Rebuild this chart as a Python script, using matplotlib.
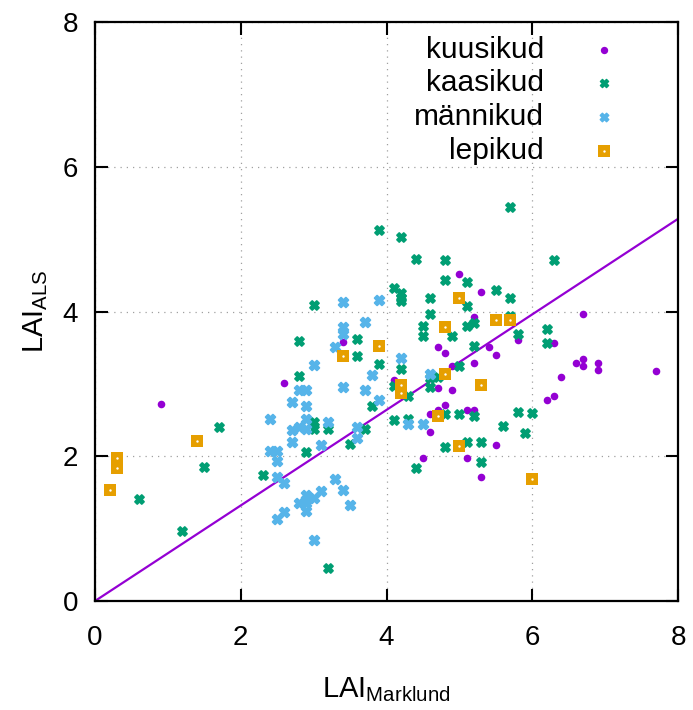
import matplotlib
matplotlib.use("Agg")
import matplotlib.pyplot as plt

plt.rcParams['font.family'] = ['Liberation Sans', 'DejaVu Sans']
plt.rcParams['mathtext.default'] = 'regular'

# LAI by Marklund (x) vs LAI from ALS (y), per stand type
kuusikud_x = [0.9, 2.6, 3.4, 5.0, 5.3, 5.2, 5.8, 4.7, 4.8, 5.4, 5.5, 5.2, 4.9, 4.1, 4.7, 4.9,
              4.8, 4.6, 4.7, 5.1, 5.2, 4.6, 5.5, 4.5, 5.1, 5.3, 6.7, 6.3, 6.6, 6.7, 6.7, 6.9,
              6.9, 7.7, 6.4, 6.3, 6.2]
kuusikud_y = [2.72, 3.01, 3.58, 4.52, 4.27, 3.92, 3.60, 3.51, 3.43, 3.51, 3.40, 3.29, 3.25, 3.06,
              2.94, 2.92, 2.71, 2.59, 2.64, 2.64, 2.64, 2.34, 2.15, 1.97, 1.97, 1.72, 3.96, 3.57,
              3.29, 3.34, 3.25, 3.29, 3.19, 3.18, 3.09, 2.83, 2.78]

kaasikud_x = [0.6, 1.2, 1.5, 1.7, 2.3, 3.0, 2.8, 3.6, 3.6, 3.9, 2.8, 3.8, 3.0, 3.0, 3.2, 3.7,
              3.5, 2.9, 3.2, 3.9, 4.2, 4.4, 4.8, 4.8, 5.1, 5.5, 5.7, 5.7, 4.1, 4.2, 4.2, 4.2,
              4.6, 5.1, 4.6, 5.7, 5.1, 5.2, 4.5, 4.5, 4.9, 5.8, 5.2, 5.0, 4.2, 4.6, 4.6, 4.7,
              4.1, 4.3, 4.8, 5.0, 5.2, 5.8, 6.0, 4.1, 4.3, 5.6, 5.9, 4.8, 5.1, 5.3, 5.3, 4.4,
              6.3, 6.2, 6.2]
kaasikud_y = [1.41, 0.97, 1.85, 2.41, 1.74, 4.09, 3.59, 3.62, 3.39, 3.28, 3.11, 2.69, 2.47, 2.37,
              2.37, 2.38, 2.17, 2.06, 0.46, 5.12, 5.03, 4.73, 4.71, 4.44, 4.41, 4.30, 5.44, 4.19,
              4.33, 4.25, 4.19, 4.14, 4.18, 4.08, 3.96, 3.94, 3.80, 3.84, 3.80, 3.66, 3.66, 3.69,
              3.52, 3.25, 3.20, 3.08, 2.95, 3.10, 2.97, 2.83, 2.59, 2.59, 2.56, 2.61, 2.60, 2.50,
              2.52, 2.42, 2.32, 2.13, 2.19, 2.20, 1.92, 1.84, 4.71, 3.76, 3.57]

mannikud_x = [2.4, 2.7, 2.7, 2.7, 2.4, 2.5, 2.5, 2.5, 2.6, 2.6, 2.5, 3.4, 3.9, 3.7, 3.4, 3.4,
              3.3, 3.0, 3.8, 2.8, 2.9, 3.4, 3.7, 3.9, 2.9, 2.9, 3.2, 2.8, 2.9, 3.6, 3.6, 3.1,
              3.3, 3.4, 3.1, 2.9, 3.0, 2.9, 2.8, 2.9, 2.9, 3.5, 3.0, 4.2, 4.6, 4.3, 4.5]
mannikud_y = [2.52, 2.75, 2.36, 2.20, 2.07, 2.07, 1.93, 1.72, 1.63, 1.23, 1.13, 4.13, 4.16, 3.85,
              3.79, 3.69, 3.51, 3.26, 3.12, 2.91, 2.92, 2.95, 2.91, 2.78, 2.69, 2.52, 2.47, 2.40,
              2.37, 2.41, 2.25, 2.15, 1.68, 1.53, 1.52, 1.47, 1.43, 1.40, 1.35, 1.35, 1.24, 1.32,
              0.84, 3.36, 3.13, 2.45, 2.45]

lepikud_x = [0.2, 0.3, 0.3, 1.4, 3.4, 3.9, 5.0, 5.5, 5.7, 4.8, 4.8, 4.2, 4.2, 5.3, 4.7, 5.0, 6.0]
lepikud_y = [1.53, 1.98, 1.84, 2.21, 3.38, 3.52, 4.19, 3.88, 3.88, 3.79, 3.14, 2.98, 2.88, 2.98,
             2.56, 2.14, 1.69]

labels = ['kuusikud', 'kaasikud', 'männikud', 'lepikud']
colors = ['#9400D3', '#009E73', '#56B4E9', '#E69F00']

fit_slope = 0.66
axis_max = 8

fig = plt.figure(figsize=(6.93, 7.10), dpi=100)
ax = fig.add_axes([95 / 693, 1 - 601 / 710, 583 / 693, 579 / 710])

# regression line through the origin
ax.plot([0, axis_max], [0, fit_slope * axis_max], color=colors[0], lw=1.6, zorder=2)

# marker styles: (marker, size, edge width)
styles = [('o', 30, 0), ('X', 42, 1.3), ('X', 48, 1.4), ('s', 74, 0)]
series = [(kuusikud_x, kuusikud_y), (kaasikud_x, kaasikud_y),
          (mannikud_x, mannikud_y), (lepikud_x, lepikud_y)]
for (xs, ys), col, (mk, sz, ew) in zip(series, colors, styles):
    ax.scatter(xs, ys, s=sz, marker=mk, color=col, edgecolors=col, linewidths=ew,
               zorder=4 if mk == 's' else 3)
ax.scatter(lepikud_x, lepikud_y, s=3, marker='o', color='white', linewidths=0, zorder=5)

ax.set_xlim(0, axis_max)
ax.set_ylim(0, axis_max)
ticks = [0, 2, 4, 6, 8]
ax.set_xticks(ticks)
ax.set_yticks(ticks)
ax.tick_params(direction='in', length=9, width=1.5, labelsize=20,
               top=True, right=True, colors='black')
ax.tick_params(axis='x', pad=17)
ax.tick_params(axis='y', pad=12)
for sp in ax.spines.values():
    sp.set_linewidth(1.6)

ax.grid(True, color='#a0a0a0', linestyle=(0, (1, 4)), linewidth=0.9)
ax.set_axisbelow(True)

ax.set_xlabel('LAI$_{Marklund}$', fontsize=21, labelpad=18)
ax.set_ylabel('LAI$_{ALS}$', fontsize=21, labelpad=9)

# legend: labels right-aligned, marker to the right
legend_rows = [0.952, 0.895, 0.836, 0.778]
legend_sizes = [28, 34, 36, 74]
for lab, col, (mk, sz, ew), lsz, yy in zip(labels, colors, styles, legend_sizes, legend_rows):
    ax.text(0.770, yy, lab, transform=ax.transAxes, ha='right', va='center', fontsize=21.5)
    ax.scatter([0.873], [yy], s=lsz, marker=mk, color=col, edgecolors=col,
               linewidths=ew * 0.8, transform=ax.transAxes, clip_on=False, zorder=6)
ax.scatter([0.873], [legend_rows[3]], s=3, marker='o', color='white', linewidths=0,
           transform=ax.transAxes, clip_on=False, zorder=7)

fig.savefig('out.png', dpi=100)
